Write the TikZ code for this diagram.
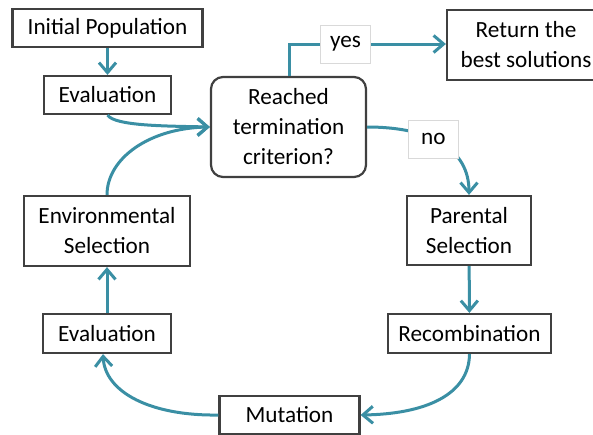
\documentclass[tikz,border=0pt]{standalone}
\usepackage{fontspec}
\setmainfont{Carlito}
\usetikzlibrary{arrows.meta,positioning}
\definecolor{flowteal}{RGB}{58,143,164}

\begin{document}
\begin{tikzpicture}[x=0.5pt,y=-0.5pt,
    box/.style={draw=black!75, line width=1.1pt, fill=white, align=center,
                inner sep=0pt, font=\fontsize{11.6}{15}\selectfont},
    decision/.style={box, rounded corners=6pt},
    tag/.style={draw=black!15, line width=0.4pt, fill=white, inner sep=0pt,
                minimum width=25pt, minimum height=19pt,
                font=\fontsize{11.6}{15}\selectfont},
    flow/.style={draw=flowteal, line width=1.5pt,
                 -{Straight Barb[length=5pt,width=8.5pt,line width=1.5pt]}}]

  \useasboundingbox (0,0) rectangle (593,434);

  \node[box, minimum width=95pt, minimum height=19pt] (init) at (107.5,28) {Initial Population};
  \node[box, minimum width=63.5pt, minimum height=19pt] (eval1) at (107.5,95) {Evaluation};
  \node[decision, minimum width=77.5pt, minimum height=50pt] (term) at (288.5,127) {Reached\\termination\\criterion?};
  \node[box, minimum width=79pt, minimum height=35pt] (ret) at (526,45) {Return the\\best solutions};
  \node[box, minimum width=62pt, minimum height=34.5pt] (par) at (469,230.5) {Parental\\Selection};
  \node[box, minimum width=81.5pt, minimum height=19.5pt] (rec) at (469.5,333.5) {Recombination};
  \node[box, minimum width=70pt, minimum height=19pt] (mut) at (289.5,415) {Mutation};
  \node[box, minimum width=64pt, minimum height=19.5pt] (eval2) at (107,333.5) {Evaluation};
  \node[box, minimum width=83pt, minimum height=35pt] (env) at (107,231) {Environmental\\Selection};

  \coordinate (bend) at (289,44);
  \coordinate (entry) at (term.west);

  \draw[flow] (init) -- (eval1);
  \draw[flow] (term.north -| bend) -- (bend) -- (ret.west |- bend)
    node[tag, pos=0.36] (yes) {yes};
  \draw[flow] (term.east) .. controls (432,127) and (469,150) .. (par.north)
    node[tag, pos=0.42] (no) {no};
  \draw[flow] (par) -- (rec);
  \draw[flow] (rec.south) .. controls (469,395) and (425,414) .. (mut.east);
  \draw[flow] (mut.west) .. controls (150,416) and (105,392) .. ([xshift=-2pt]eval2.south);
  \draw[flow] (eval2) -- (env);
  \draw[flow] (env.north) .. controls (107,158) and (150,128) .. (entry);
  \draw[flow] (eval1.south) .. controls (115,126) and (165,126) .. (entry);

\end{tikzpicture}
\end{document}
